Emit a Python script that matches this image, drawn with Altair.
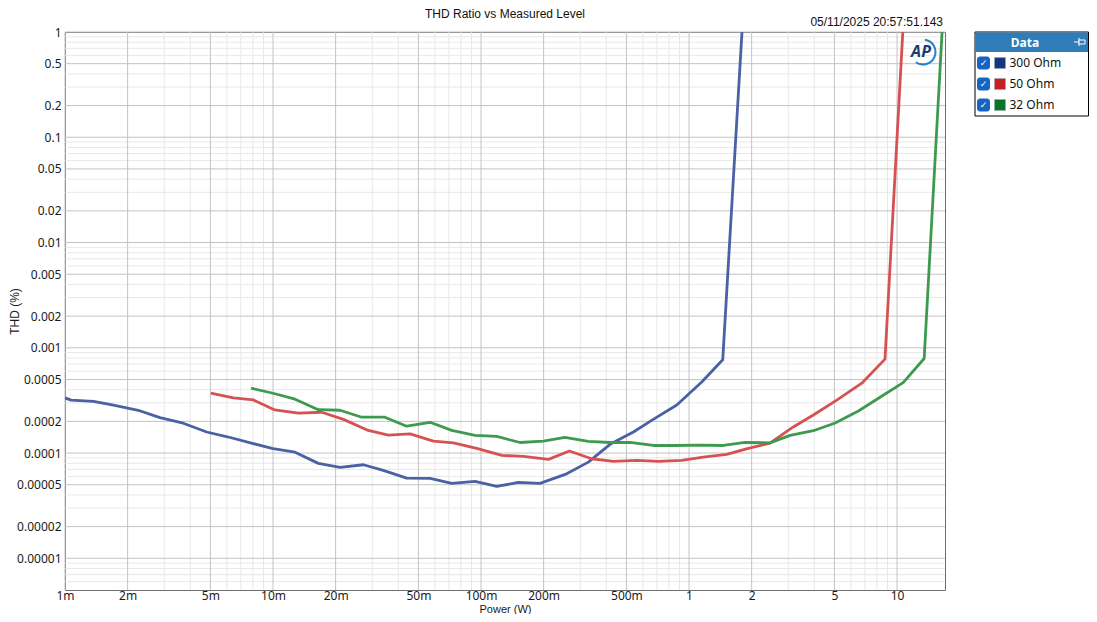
import altair as alt
import pandas as pd

FONT = "Noto Sans"
FONT2 = "Liberation Sans"

title_text = "THD Ratio vs Measured Level"
timestamp_text = "05/11/2025 20:57:51.143"
x_title = "Power (W)"
y_title = "THD (%)"
legend_title = "Data"

series_names = ["300 Ohm", "50 Ohm", "32 Ohm"]
line_colors = ["#4a62a3", "#d65252", "#3e9a4e"]
swatch_colors = ["#14367c", "#c42127", "#0c7428"]

# 300 Ohm
p300 = [0.001, 0.00107, 0.00137, 0.00171, 0.00225, 0.00286, 0.00370, 0.00480, 0.0061,
        0.00804, 0.0100, 0.01276, 0.01651, 0.0210, 0.0272, 0.0339, 0.0439, 0.0569, 0.0723,
        0.0936, 0.119, 0.151, 0.192, 0.258, 0.328, 0.417, 0.540, 0.673, 0.873, 1.151, 1.452, 1.86]
t300 = [3.34e-4, 3.18e-4, 3.10e-4, 2.85e-4, 2.55e-4, 2.17e-4, 1.92e-4, 1.585e-4, 1.42e-4,
        1.23e-4, 1.10e-4, 1.02e-4, 7.98e-5, 7.31e-5, 7.74e-5, 6.84e-5, 5.78e-5, 5.74e-5, 5.14e-5,
        5.37e-5, 4.82e-5, 5.26e-5, 5.15e-5, 6.35e-5, 8.2e-5, 1.21e-4, 1.585e-4, 2.09e-4, 2.86e-4,
        4.74e-4, 7.69e-4, 3.2]

# 50 Ohm
p50 = [0.00502, 0.00645, 0.00804, 0.0102, 0.01324, 0.01714, 0.0218, 0.0287, 0.0358, 0.0456,
       0.059, 0.0736, 0.0953, 0.126, 0.160, 0.211, 0.266, 0.340, 0.433, 0.561, 0.711, 0.922,
       1.172, 1.517, 1.928, 2.45, 3.17, 3.96, 5.13, 6.77, 8.75, 11.2]
t50 = [3.70e-4, 3.34e-4, 3.20e-4, 2.57e-4, 2.39e-4, 2.44e-4, 2.09e-4, 1.64e-4, 1.48e-4, 1.52e-4,
       1.30e-4, 1.25e-4, 1.11e-4, 9.51e-5, 9.30e-5, 8.71e-5, 1.045e-4, 8.83e-5, 8.33e-5, 8.51e-5,
       8.33e-5, 8.51e-5, 9.16e-5, 9.73e-5, 1.11e-4, 1.24e-4, 1.77e-4, 2.30e-4, 3.18e-4, 4.61e-4,
       7.80e-4, 6.1]

# 32 Ohm
p32 = [0.00784, 0.0100, 0.01276, 0.01651, 0.0210, 0.0267, 0.0345, 0.0439, 0.0569, 0.0723,
       0.0936, 0.119, 0.154, 0.1995, 0.253, 0.328, 0.417, 0.520, 0.673, 0.857, 1.13, 1.462,
       1.858, 2.45, 3.06, 3.96, 5.04, 6.52, 8.28, 10.7, 13.5, 17.2]
t32 = [4.13e-4, 3.70e-4, 3.25e-4, 2.58e-4, 2.55e-4, 2.19e-4, 2.19e-4, 1.80e-4, 1.96e-4, 1.64e-4,
       1.47e-4, 1.44e-4, 1.26e-4, 1.30e-4, 1.41e-4, 1.29e-4, 1.26e-4, 1.26e-4, 1.18e-4, 1.18e-4,
       1.19e-4, 1.18e-4, 1.26e-4, 1.25e-4, 1.47e-4, 1.63e-4, 1.93e-4, 2.51e-4, 3.39e-4, 4.67e-4,
       7.91e-4, 4.9]

x_tick_values = [0.001, 0.002, 0.005, 0.01, 0.02, 0.05, 0.1, 0.2, 0.5, 1, 2, 5, 10]
x_tick_labels = ["1m", "2m", "5m", "10m", "20m", "50m", "100m", "200m", "500m", "1", "2", "5", "10"]
y_tick_values = [1, 0.5, 0.2, 0.1, 0.05, 0.02, 0.01, 0.005, 0.002, 0.001, 0.0005, 0.0002,
                 0.0001, 0.00005, 0.00002, 0.00001]
y_tick_labels = ["1", "0.5", "0.2", "0.1", "0.05", "0.02", "0.01", "0.005", "0.002", "0.001",
                 "0.0005", "0.0002", "0.0001", "0.00005", "0.00002", "0.00001"]

X_DOMAIN = [0.001, 17]
Y_DOMAIN = [5e-6, 1]
W, H = 880, 558

# minor grid positions (3,4,6,7,8,9 of each decade)
x_minor = [k * 10.0 ** e for e in range(-3, 2) for k in (3, 4, 6, 7, 8, 9)
           if X_DOMAIN[0] < k * 10.0 ** e < X_DOMAIN[1]]
y_minor = [k * 10.0 ** e for e in range(-6, 1) for k in (3, 4, 6, 7, 8, 9)
           if Y_DOMAIN[0] < k * 10.0 ** e < Y_DOMAIN[1]]

rows = []
for name, ps, ts in zip(series_names, [p300, p50, p32], [t300, t50, t32]):
    for p, t in zip(ps, ts):
        rows.append({"power": p, "thd": t, "series": name})
df = pd.DataFrame(rows)

xscale = alt.Scale(type="log", domain=X_DOMAIN, nice=False, zero=False)
yscale = alt.Scale(type="log", domain=Y_DOMAIN, nice=False, zero=False)


def lookup_expr(values, labels):
    v = "[" + ",".join(repr(float(a)) for a in values) + "]"
    l = "[" + ",".join("'" + s + "'" for s in labels) + "]"
    return f"{l}[indexof({v}, datum.value)]"


x_axis = alt.Axis(values=x_tick_values, labelExpr=lookup_expr(x_tick_values, x_tick_labels),
                  title=x_title, grid=False, domain=False, ticks=False, labelPadding=0,
                  labelFlush=False, labelOverlap=False, titleY=22, titleBaseline="alphabetic",
                  titleFontWeight="normal", titleFontSize=11, titleFont=FONT2)
y_axis = alt.Axis(values=y_tick_values, labelExpr=lookup_expr(y_tick_values, y_tick_labels),
                  title=y_title, grid=False, domain=False, ticks=False, labelPadding=4,
                  labelFlush=False, labelOverlap=False, titleX=-51, titleY=H / 2,
                  titleBaseline="middle", titleAlign="center",
                  titleFontWeight="normal", titleFontSize=12, titleFont=FONT2)

xminor_layer = alt.Chart(pd.DataFrame({"v": x_minor})).mark_rule(color="#e8e8e8", strokeWidth=1).encode(
    x=alt.X("v:Q", scale=xscale, axis=x_axis), y=alt.value(0), y2=alt.value(H))
yminor_layer = alt.Chart(pd.DataFrame({"v": y_minor})).mark_rule(color="#e8e8e8", strokeWidth=1).encode(
    y=alt.Y("v:Q", scale=yscale, axis=y_axis), x=alt.value(0), x2=alt.value(W))
xmajor_layer = alt.Chart(pd.DataFrame({"v": x_tick_values})).mark_rule(color="#c3c3c3", strokeWidth=1).encode(
    x=alt.X("v:Q", scale=xscale, axis=x_axis), y=alt.value(0), y2=alt.value(H))
ymajor_layer = alt.Chart(pd.DataFrame({"v": y_tick_values})).mark_rule(color="#c3c3c3", strokeWidth=1).encode(
    y=alt.Y("v:Q", scale=yscale, axis=y_axis), x=alt.value(0), x2=alt.value(W))

lines = alt.Chart(df).mark_line(strokeWidth=2.8, clip=True, strokeJoin="round").encode(
    x=alt.X("power:Q", scale=xscale, axis=x_axis),
    y=alt.Y("thd:Q", scale=yscale, axis=y_axis),
    color=alt.Color("series:N", scale=alt.Scale(domain=series_names, range=line_colors), legend=None),
    detail="series:N",
)

one = pd.DataFrame({"a": [0]})


def txt(text, x, y, font=FONT, **kw):
    return alt.Chart(one).mark_text(text=text, font=font, **kw).encode(x=alt.value(x), y=alt.value(y))


def rect(x, x2, y, y2, **kw):
    return alt.Chart(one).mark_rect(**kw).encode(
        x=alt.value(x), x2=alt.value(x2), y=alt.value(y), y2=alt.value(y2))


def rule(x, x2, y, y2, **kw):
    return alt.Chart(one).mark_rule(**kw).encode(
        x=alt.value(x), x2=alt.value(x2), y=alt.value(y), y2=alt.value(y2))


decor = [
    txt(title_text, W / 2, -23, font=FONT2, fontSize=12, color="#111", align="center", baseline="top"),
    txt(timestamp_text, 878, -10, font=FONT2, fontSize=12, color="#111", align="right",
        baseline="middle"),
    # AP logo
    alt.Chart(one).mark_arc(theta=0.15, theta2=3.75, outerRadius=13.5, innerRadius=11.5,
                            color="#1f82c8").encode(x=alt.value(858), y=alt.value(20)),
    txt("AP", 856, 20, fontSize=16, fontWeight="bold", fontStyle="italic", color="#1b3a6e",
        align="center", baseline="middle"),
    # legend box
    rect(910, 1023.5, 0, 84, fill="white", stroke="#000", strokeWidth=1),
    rect(910.5, 1023, 0.5, 20, fill="#2e7cb8"),
    txt(legend_title, 960, 11, fontSize=12, fontWeight="bold", color="white", align="center",
        baseline="middle"),
    rule(1009, 1014, 10, 10, color="white", strokeWidth=1),
    rule(1014, 1014, 6, 14, color="white", strokeWidth=1),
    rect(1014, 1020, 8, 12, fill="#2e7cb8", stroke="white", strokeWidth=1),
]
for i, (name, col) in enumerate(zip(series_names, swatch_colors)):
    cy = 31 + 21 * i
    decor += [
        rect(912, 925, cy - 6.5, cy + 6.5, fill="#1565c0", cornerRadius=3),
        txt("✓", 918.5, cy, font="DejaVu Sans", fontSize=9, color="white", align="center",
            baseline="middle"),
        rect(929.5, 940.5, cy - 5.5, cy + 5.5, fill=col, stroke="#9aa", strokeWidth=0.5),
        txt(name, 944.5, cy, fontSize=12, color="#111", align="left", baseline="middle"),
    ]

chart = alt.layer(yminor_layer, xminor_layer, ymajor_layer, xmajor_layer, lines, *decor).properties(
    width=W, height=H,
    autosize=alt.AutoSizeParams(type="none"),
    padding={"left": 57, "top": 24, "right": 144, "bottom": 24},
).configure(font=FONT, background="white").configure_view(
    stroke="#6e6e6e", strokeWidth=1
).configure_axis(
    labelFont=FONT, labelFontSize=12, labelColor="#1a1a1a", titleColor="#1a1a1a"
)

chart.save("out.html", embed_options={"renderer": "svg", "actions": False})
